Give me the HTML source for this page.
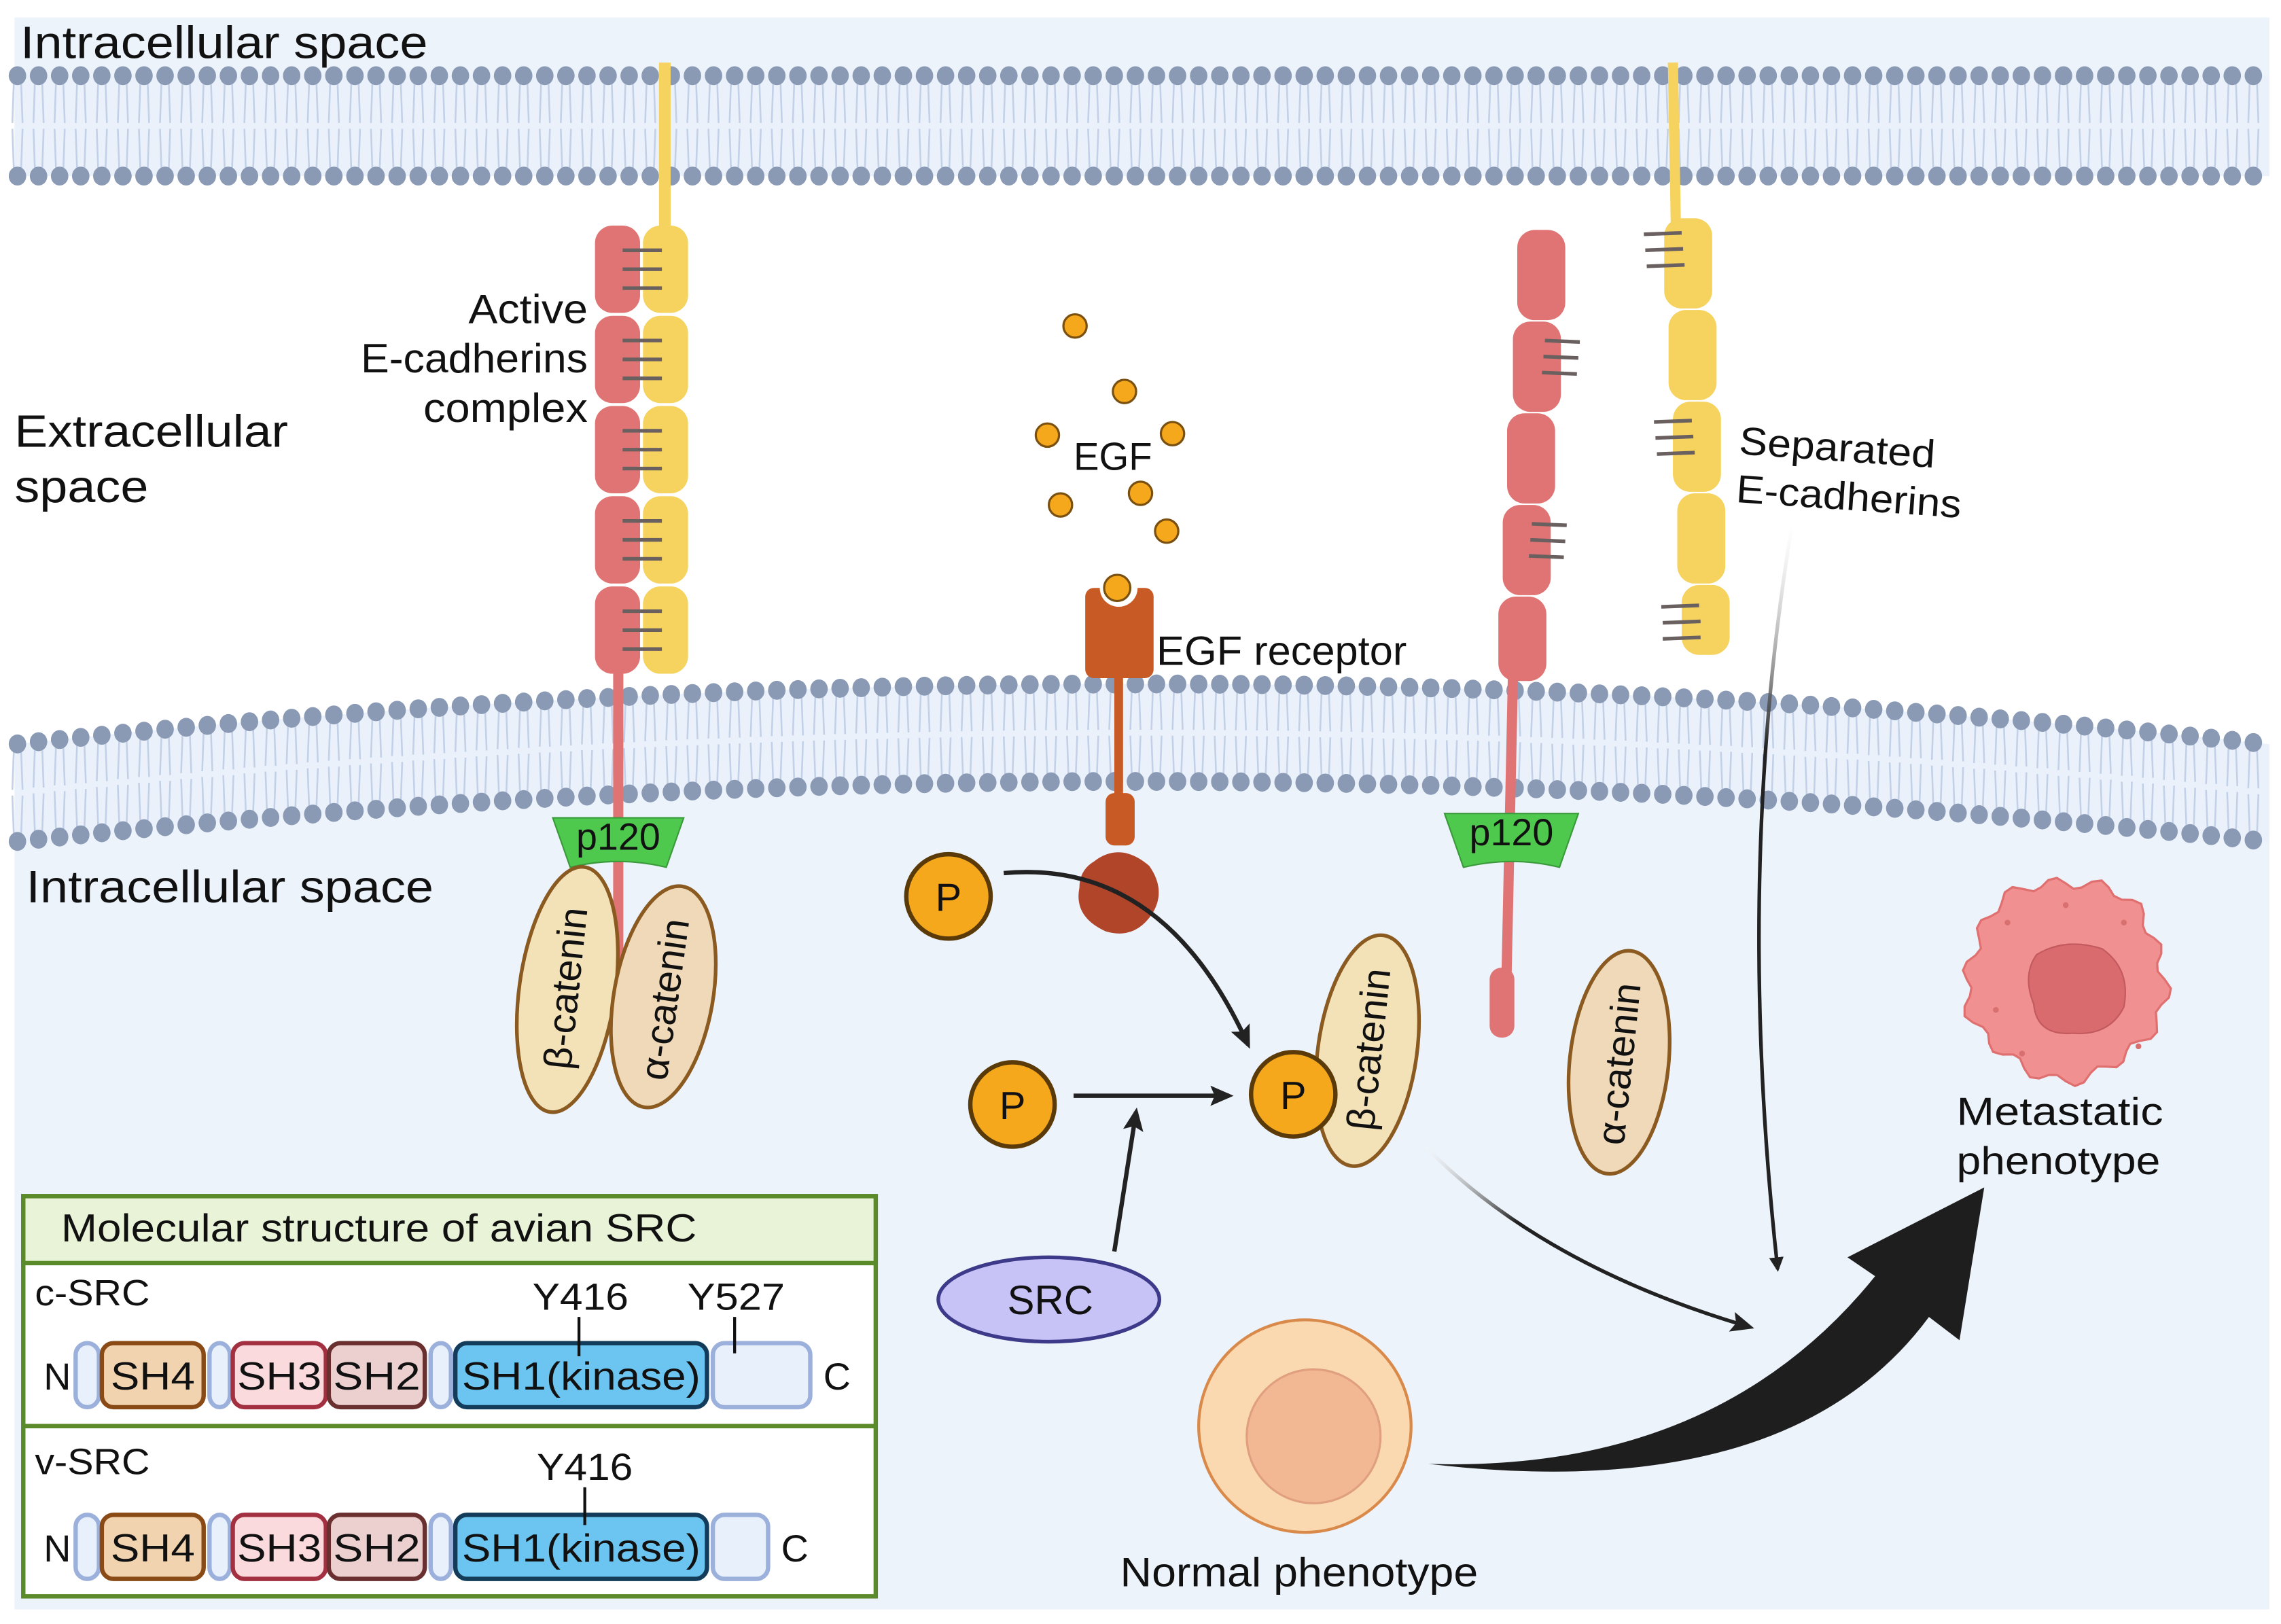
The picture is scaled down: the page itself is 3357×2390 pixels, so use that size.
<!DOCTYPE html>
<html><head><meta charset="utf-8"><style>
html,body{margin:0;padding:0;background:#fff;}
svg{display:block;}
text{font-family:"Liberation Sans",sans-serif;fill:#111;}
</style></head><body>
<svg id="s" width="3357" height="2390" viewBox="0 0 1568 1116" preserveAspectRatio="none" xmlns="http://www.w3.org/2000/svg">
<defs>
<linearGradient id="g1" x1="0" y1="0" x2="0" y2="1"><stop offset="0" stop-color="#fff" stop-opacity="0.2"/><stop offset="0.3" stop-color="#222"/><stop offset="1" stop-color="#222"/></linearGradient>
<linearGradient id="g2" x1="0" y1="0" x2="1" y2="1"><stop offset="0" stop-color="#fff" stop-opacity="0.2"/><stop offset="0.35" stop-color="#222"/><stop offset="1" stop-color="#222"/></linearGradient>
<marker id="ah" markerWidth="10" markerHeight="10" refX="8" refY="5" orient="auto" markerUnits="userSpaceOnUse"><path d="M0,0 L10,5 L0,10 Z" fill="#222"/></marker>
<marker id="ah2" markerWidth="16" markerHeight="16" refX="13" refY="8" orient="auto" markerUnits="userSpaceOnUse"><path d="M0,1 L16,8 L0,15 L3,8 Z" fill="#222"/></marker>
</defs>
<rect x="10" y="12" width="1550" height="1094" fill="#ecf3fb"/>
<path id="white" fill="#fff"/>
<g id="mem"></g>

<!-- Active complex -->
<line x1="457" y1="43" x2="457" y2="160" stroke="#f5d35e" stroke-width="8"/>
<g fill="#e07474">
<rect x="409" y="155" width="31" height="60" rx="12"/><rect x="409" y="217" width="31" height="60" rx="12"/><rect x="409" y="279" width="31" height="60" rx="12"/><rect x="409" y="341" width="31" height="60" rx="12"/><rect x="409" y="403" width="31" height="60" rx="12"/>
</g>
<g fill="#f5d35e">
<rect x="442" y="155" width="31" height="60" rx="12"/><rect x="442" y="217" width="31" height="60" rx="12"/><rect x="442" y="279" width="31" height="60" rx="12"/><rect x="442" y="341" width="31" height="60" rx="12"/><rect x="442" y="403" width="31" height="60" rx="12"/>
</g>
<g stroke="#6a6060" stroke-width="2.5" id="hashA"></g>
<line x1="425" y1="460" x2="425" y2="700" stroke="#e07474" stroke-width="7"/>
<path d="M380,562 L470,562 L458,596 Q425,588 392,596 Z" fill="#4ec94e" stroke="#3a9a3a"/>
<text x="425" y="584" font-size="26" text-anchor="middle">p120</text>
<ellipse cx="390" cy="680" rx="33" ry="85" transform="rotate(8 390 680)" fill="#f3e2b8" stroke="#8a5a20" stroke-width="2.5"/>
<ellipse cx="456" cy="685" rx="34" ry="77" transform="rotate(10 456 685)" fill="#efd9b8" stroke="#8a5a20" stroke-width="2.5"/>
<text transform="translate(398,680) rotate(-84)" font-size="27" text-anchor="middle">β-catenin</text>
<text transform="translate(466,688) rotate(-82)" font-size="27" text-anchor="middle">α-catenin</text>
<text x="322" y="222" font-size="28" textLength="82" lengthAdjust="spacingAndGlyphs">Active</text>
<text x="248" y="256" font-size="28" textLength="156" lengthAdjust="spacingAndGlyphs">E-cadherins</text>
<text x="291" y="290" font-size="28" textLength="113" lengthAdjust="spacingAndGlyphs">complex</text>

<!-- EGF -->
<g fill="#f6a81c" stroke="#7a5010" stroke-width="1.5">
<circle cx="739" cy="224" r="8"/><circle cx="773" cy="269" r="8"/><circle cx="720" cy="299" r="8"/><circle cx="806" cy="298" r="8"/><circle cx="784" cy="339" r="8"/><circle cx="729" cy="347" r="8"/><circle cx="802" cy="365" r="8"/>
</g>
<text x="738" y="323" font-size="27" textLength="54" lengthAdjust="spacingAndGlyphs">EGF</text>
<rect x="746" y="404" width="47" height="62" rx="6" fill="#c85a25"/>
<circle cx="769" cy="404" r="13" fill="#fff"/>
<circle cx="768" cy="404" r="9" fill="#f6a81c" stroke="#7a5010" stroke-width="1.5"/>
<rect x="766" y="460" width="6" height="90" fill="#c85a25"/>
<rect x="760" y="545" width="20" height="36" rx="6" fill="#c85a25"/>
<path d="M752,592 Q770,578 790,595 Q802,612 792,628 Q780,646 760,640 Q738,630 742,610 Q742,598 752,592 Z" fill="#b0452a"/>
<text x="795" y="457" font-size="28" textLength="172" lengthAdjust="spacingAndGlyphs">EGF receptor</text>

<!-- Separated -->
<line x1="1150" y1="43" x2="1152" y2="155" stroke="#f5d35e" stroke-width="7"/>
<g fill="#e07474">
<rect x="1043" y="158" width="33" height="62" rx="12"/><rect x="1040" y="221" width="33" height="62" rx="12"/><rect x="1036" y="284" width="33" height="62" rx="12"/><rect x="1033" y="347" width="33" height="62" rx="12"/><rect x="1030" y="410" width="33" height="58" rx="12"/>
</g>
<line x1="1040" y1="465" x2="1035" y2="700" stroke="#e07474" stroke-width="7"/>
<rect x="1024" y="665" width="17" height="48" rx="8" fill="#e07474"/>
<g fill="#f5d35e">
<rect x="1144" y="150" width="33" height="62" rx="12"/><rect x="1147" y="213" width="33" height="62" rx="12"/><rect x="1150" y="276" width="33" height="62" rx="12"/><rect x="1153" y="339" width="33" height="62" rx="12"/><rect x="1156" y="402" width="33" height="48" rx="12"/>
</g>
<g stroke="#6a6060" stroke-width="2.5">
<line x1="1062" y1="234" x2="1086" y2="235"/><line x1="1061" y1="245" x2="1085" y2="246"/><line x1="1060" y1="256" x2="1084" y2="257"/>
<line x1="1053" y1="360" x2="1077" y2="361"/><line x1="1052" y1="371" x2="1076" y2="372"/><line x1="1051" y1="382" x2="1075" y2="383"/>
<line x1="1130" y1="161" x2="1156" y2="160"/><line x1="1131" y1="172" x2="1157" y2="171"/><line x1="1132" y1="183" x2="1158" y2="182"/>
<line x1="1137" y1="290" x2="1163" y2="289"/><line x1="1138" y1="301" x2="1164" y2="300"/><line x1="1139" y1="312" x2="1165" y2="311"/>
<line x1="1142" y1="417" x2="1168" y2="416"/><line x1="1143" y1="428" x2="1169" y2="427"/><line x1="1143" y1="439" x2="1169" y2="438"/>
</g>
<path d="M993,559 L1085,559 L1072,596 Q1040,588 1006,596 Z" fill="#4ec94e" stroke="#3a9a3a"/>
<text x="1039" y="581" font-size="26" text-anchor="middle">p120</text>
<ellipse cx="1113" cy="730" rx="34" ry="77" transform="rotate(6 1113 730)" fill="#efd9b8" stroke="#8a5a20" stroke-width="2.5"/>
<text transform="translate(1122,732) rotate(-84)" font-size="27" text-anchor="middle">α-catenin</text>
<text transform="translate(1195,312) rotate(4)" font-size="27" textLength="135" lengthAdjust="spacingAndGlyphs">Separated</text>
<text transform="translate(1193,345) rotate(4)" font-size="27" textLength="155" lengthAdjust="spacingAndGlyphs">E-cadherins</text>
<path d="M1232,360 Q1192,600 1222,872" fill="none" stroke="url(#g1)" stroke-width="2.5" marker-end="url(#ah)"/>

<!-- Phosphorylation -->
<path d="M690,600 Q800,590 858,718" fill="none" stroke="#222" stroke-width="3" marker-end="url(#ah2)"/>
<line x1="738" y1="753" x2="845" y2="753" stroke="#222" stroke-width="3" marker-end="url(#ah2)"/>
<line x1="766" y1="860" x2="781" y2="764" stroke="#222" stroke-width="3" marker-end="url(#ah2)"/>
<ellipse cx="721" cy="893" rx="76" ry="29" fill="#c7c3f7" stroke="#3d3a8a" stroke-width="2.5"/>
<text x="722" y="903" font-size="28" text-anchor="middle">SRC</text>
<ellipse cx="940" cy="722" rx="34" ry="80" transform="rotate(8 940 722)" fill="#f3e2b8" stroke="#8a5a20" stroke-width="2.5"/>
<text transform="translate(950,722) rotate(-84)" font-size="27" text-anchor="middle">β-catenin</text>
<g fill="#f6a81c" stroke="#5a3a08" stroke-width="3">
<circle cx="652" cy="616" r="29"/><circle cx="696" cy="759" r="29"/><circle cx="889" cy="752" r="29"/>
</g>
<g font-size="27" text-anchor="middle"><text x="652" y="626">P</text><text x="696" y="769">P</text><text x="889" y="762">P</text></g>
<path d="M980,788 Q1060,870 1203,912" fill="none" stroke="url(#g2)" stroke-width="2.5" marker-end="url(#ah2)"/>

<!-- cells -->
<circle cx="897" cy="980" r="73" fill="#fbd9b0" stroke="#d98a4a" stroke-width="2"/>
<circle cx="903" cy="987" r="46" fill="#f2b893" stroke="#e0a080" stroke-width="1.5"/>
<text x="770" y="1090" font-size="28" textLength="246" lengthAdjust="spacingAndGlyphs">Normal phenotype</text>
<path d="M982,1006 Q1180,1012 1289,877 L1270,864 L1364,816 L1347,921 L1326,905 Q1230,1035 982,1006 Z" fill="#1e1e1e"/>
<path id="met" fill="#f09090" stroke="#e07070" stroke-width="1.5"/>
<path d="M1400,656 Q1420,644 1445,652 Q1465,666 1460,692 Q1450,712 1425,710 Q1400,712 1398,690 Q1390,670 1400,656 Z" fill="#d96a6e" stroke="#c25a5e"/>
<g fill="#d87070"><circle cx="1380" cy="634" r="2"/><circle cx="1460" cy="634" r="2"/><circle cx="1372" cy="694" r="2"/><circle cx="1470" cy="719" r="2"/><circle cx="1420" cy="622" r="2"/><circle cx="1390" cy="724" r="2"/></g>
<text x="1345" y="773" font-size="27" textLength="142" lengthAdjust="spacingAndGlyphs">Metastatic</text>
<text x="1345" y="807" font-size="27" textLength="140" lengthAdjust="spacingAndGlyphs">phenotype</text>

<!-- SRC box -->
<rect x="16" y="822" width="586" height="275" fill="#fff" stroke="#5a8a2a" stroke-width="3"/>
<rect x="16" y="822" width="586" height="46" fill="#e8f3d8" stroke="#5a8a2a" stroke-width="3"/>
<line x1="16" y1="980" x2="602" y2="980" stroke="#5a8a2a" stroke-width="3"/>
<text x="42" y="853" font-size="27" textLength="437" lengthAdjust="spacingAndGlyphs">Molecular structure of avian SRC</text>
<text x="24" y="897" font-size="25" textLength="79" lengthAdjust="spacingAndGlyphs">c-SRC</text>
<text x="24" y="1013" font-size="25" textLength="79" lengthAdjust="spacingAndGlyphs">v-SRC</text>
<g id="dom"></g>
<text x="14" y="40" font-size="31" textLength="280" lengthAdjust="spacingAndGlyphs">Intracellular space</text>
<text x="10" y="307" font-size="31" textLength="188" lengthAdjust="spacingAndGlyphs">Extracellular</text>
<text x="10" y="345" font-size="31" textLength="92" lengthAdjust="spacingAndGlyphs">space</text>
<text x="18" y="620" font-size="31" textLength="280" lengthAdjust="spacingAndGlyphs">Intracellular space</text>
</svg>
<script>
var NS="http://www.w3.org/2000/svg";
function el(p,t,a,txt){var e=document.createElementNS(NS,t);for(var k in a)e.setAttribute(k,a[k]);if(txt)e.textContent=txt;p.appendChild(e);return e;}
var mem=document.getElementById('mem');
function lowTop(x){return 470+6.9e-5*(x-785)*(x-785);}
var d="M10,121 L1560,121 L1560,"+lowTop(1560);
for(var x=1560;x>=10;x-=10)d+=" L"+x+","+lowTop(x);
d+=" L10,121 Z";document.getElementById('white').setAttribute('d',d);
function membrane(fTop,th){
 var dd="M10,"+fTop(10);for(var x=10;x<=1560;x+=10)dd+=" L"+x+","+fTop(x);
 for(var x=1560;x>=10;x-=10)dd+=" L"+x+","+(fTop(x)+th);dd+="Z";
 el(mem,'path',{d:dd,fill:'#eaf1fb'});
 for(var x=12;x<1562;x+=14.5){var y=fTop(x);
  var g=[[x-2.5,y+4,x-3.5,y+th/2-2],[x+2.5,y+4,x+3.5,y+th/2-2],[x-3.5,y+th/2+2,x-2.5,y+th-4],[x+3.5,y+th/2+2,x+2.5,y+th-4]];
  g.forEach(function(l){el(mem,'line',{x1:l[0],y1:l[1],x2:l[2],y2:l[3],stroke:'#c2d0e8','stroke-width':1.2});});
  el(mem,'ellipse',{cx:x,cy:y,rx:6,ry:6.5,fill:'#8a9ab5'});
  el(mem,'ellipse',{cx:x,cy:y+th,rx:6,ry:6.5,fill:'#8a9ab5'});
 }
}
membrane(function(x){return 52;},69);
membrane(lowTop,67);
var h=document.getElementById('hashA');
[155,217,279,341,403].forEach(function(y){[17,30,43].forEach(function(o){el(h,'line',{x1:428,y1:y+o,x2:455,y2:y+o});});});
var md="";for(var i=0;i<=72;i++){var a=i/72*Math.PI*2;var r=68+4*Math.sin(a*14)+2*Math.sin(a*5);var px=1420+r*Math.cos(a),py=673+r*Math.sin(a);md+=(i?"L":"M")+px.toFixed(1)+","+py.toFixed(1);}
document.getElementById('met').setAttribute('d',md+"Z");
var dom=document.getElementById('dom');
function row(cy,tail,cx){
 var y=cy-22,hgt=44;
 el(dom,'text',{x:30,y:cy+10,'font-size':26},'N');
 var items=[[52,16,'#e8f0fb','#9cb0dc','',0],[70,70,'#f2d3b0','#8a4a15','SH4',58],[144,14,'#e8f0fb','#9cb0dc','',0],[160,64,'#fadadd','#a33040','SH3',58],[226,66,'#ecd0d0','#6a3030','SH2',60],[296,14,'#e8f0fb','#9cb0dc','',0],[313,173,'#6cc4f0','#123c5a','SH1(kinase)',164],[490,tail,'#e8f0fb','#9cb0dc','',0]];
 items.forEach(function(it){el(dom,'rect',{x:it[0],y:y,width:it[1],height:hgt,rx:8,fill:it[2],stroke:it[3],'stroke-width':3});
  if(it[4])el(dom,'text',{x:it[0]+it[1]/2,y:cy+10,'font-size':27,'text-anchor':'middle',textLength:it[5],lengthAdjust:'spacingAndGlyphs'},it[4]);});
 el(dom,'text',{x:cx,y:cy+10,'font-size':26},'C');
}
row(945,67,566);row(1063,38,537);
el(dom,'text',{x:399,y:900,'font-size':26,'text-anchor':'middle',textLength:66,lengthAdjust:'spacingAndGlyphs'},'Y416');
el(dom,'line',{x1:398,y1:905,x2:398,y2:932,stroke:'#111','stroke-width':2});
el(dom,'text',{x:506,y:900,'font-size':26,'text-anchor':'middle',textLength:67,lengthAdjust:'spacingAndGlyphs'},'Y527');
el(dom,'line',{x1:505,y1:905,x2:505,y2:930,stroke:'#111','stroke-width':2});
el(dom,'text',{x:402,y:1017,'font-size':26,'text-anchor':'middle',textLength:66,lengthAdjust:'spacingAndGlyphs'},'Y416');
el(dom,'line',{x1:402,y1:1022,x2:402,y2:1048,stroke:'#111','stroke-width':2});
</script>
</body></html>
